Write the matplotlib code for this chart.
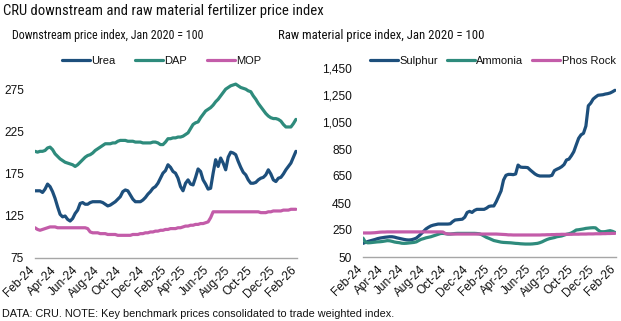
import numpy as np
import pandas as pd
import matplotlib
matplotlib.use("Agg")
import matplotlib.pyplot as plt
from matplotlib import font_manager
from matplotlib.font_manager import FontProperties

plt.rcParams['font.family'] = ['Liberation Sans', 'DejaVu Sans']


def narrow_face():
    """Pick a condensed sans-serif face for headings, if any is installed."""
    fonts = font_manager.fontManager.ttflist
    wanted = ["liberation sans narrow", "arial narrow", "roboto condensed",
              "open sans condensed", "noto sans condensed",
              "dejavu sans condensed"]
    for w in wanted:
        for f in fonts:
            if f.name.lower() == w and f.style == "normal" and f.weight in (400, "normal", "regular"):
                return FontProperties(fname=f.fname)
    for f in fonts:
        st = f.stretch
        cond = (isinstance(st, str) and "condensed" in st) or (isinstance(st, (int, float)) and st < 500)
        if cond and f.style == "normal" and f.weight in (400, "normal", "regular") \
                and any(k in f.name for k in ("Sans", "Roboto", "Lato", "Inter")):
            return FontProperties(fname=f.fname)
    return FontProperties(family=["Liberation Sans", "DejaVu Sans"])


HEAD_FP = narrow_face()

# Weekly observations, Feb 2024 - Jan 2026 (index, Jan 2020 = 100)
weeks = pd.date_range("2024-02-01", periods=105, freq="7D")

urea = [155,155,155,153,157,163,160,154,146,136,
        127,124,125,121,119,122,128,132,140,141,
        139,139,141,142,142,142,142,141,139,137,
        138,140,142,145,148,154,156,155,150,145,
        142,142,142,144,147,151,154,158,160,164,
        170,176,179,186,183,178,176,170,160,155,
        164,168,163,162,171,181,178,168,163,157,
        158,176,192,184,194,188,180,195,201,200,
        198,190,183,177,174,168,164,164,165,168,
        170,171,174,180,175,168,166,170,171,175,
        180,184,188,195,202]

dap = [202,201,202,202,203,206,207,204,199,196,
       193,191,189,188,187,186,184,186,189,192,
       195,197,198,200,203,205,207,209,211,211,
       211,212,212,214,215,215,215,214,214,214,
       213,213,213,212,212,212,212,213,213,212,
       210,210,213,217,217,218,218,219,219,220,
       222,224,229,234,236,237,242,246,250,252,
       254,257,261,264,268,272,276,278,280,281,
       282,280,278,277,276,274,273,268,264,259,
       255,251,247,244,242,241,241,240,238,234,
       231,231,231,235,240]

mop = [111,109,108,109,110,111,112,112,112,111,
       111,111,111,111,111,111,111,111,111,111,
       111,110,106,105,105,105,104,104,104,103,
       103,103,103,102,102,102,102,102,102,103,
       103,103,104,104,105,105,106,106,107,107,
       108,108,109,109,110,110,110,111,111,112,
       113,113,114,114,115,115,116,116,117,118,
       123,130,130,130,130,130,130,130,130,130,
       130,130,130,130,130,130,130,130,130,130,
       129,129,129,130,130,131,131,131,131,132,
       132,132,133,133,133]

sulphur = [151,158,165,170,175,180,186,190,193,196,
           198,200,200,197,192,188,184,180,177,176,
           178,183,190,205,222,240,258,270,280,286,
           290,294,294,294,294,294,296,312,324,326,
           328,330,345,380,388,380,395,403,403,403,
           403,412,425,428,428,460,500,540,620,655,
           662,662,660,665,731,716,714,714,712,695,
           680,665,655,650,650,650,650,650,655,690,
           700,708,719,735,769,775,800,830,880,929,
           955,966,1020,1170,1190,1220,1235,1248,1250,1252,
           1257,1260,1265,1274,1285]

ammonia = [190,160,155,156,158,160,162,163,165,168,
           171,170,166,161,158,156,152,151,152,154,
           156,158,162,172,181,186,192,196,200,206,
           212,218,224,225,223,220,220,222,224,225,
           225,225,225,225,225,225,225,224,222,215,
           205,195,188,180,172,168,164,160,158,157,
           156,155,153,151,150,148,147,146,146,146,
           147,149,151,156,163,172,180,186,190,194,
           200,203,206,212,218,222,228,238,250,252,
           255,258,262,264,266,267,266,250,238,237,
           238,242,245,240,232]

phos_rock = ([228,228,228,228,229,230,232,234] +
             [235,235,236,236,236,236,236,236,236,236,236,236,236,
              236,236,236,236,236,236,236,236,236,236,236,236,235] +
             [224] +
             [221,220,220,220,220,220,220,220,220,220,220,220,220,
              220,220,220,220,220,220,220,220,219,218,217,216] +
             [214,214,213,213,213,213,213,213,213,213,213,213,213,
              213,214,214,215,215,216,216,217,217,218,218,218,218] +
             [218,219,219,219,220,220,220,221,221,221,222,222,222,
              223,223,224,224,225,225])

tick_dates = pd.date_range("2024-02-01", "2026-02-01", freq="2MS")
tick_labels = [d.strftime("%b-%y") for d in tick_dates]

NAVY = "#1d4f7c"
TEAL = "#2e8b7c"
PINK = "#c35ca9"
LW = 2.3
INK = "#111111"

fig = plt.figure(figsize=(6.21, 3.21), dpi=100)
ax1 = fig.add_axes([35/621, 1-258/321, 262/621, 189/321])
ax2 = fig.add_axes([363/621, 1-257/321, 253/621, 189/321])

panels = [
    (ax1, [("Urea", urea, NAVY), ("DAP", dap, TEAL), ("MOP", mop, PINK)],
     (75, 300), np.arange(75, 300, 50)),
    (ax2, [("Sulphur", sulphur, NAVY), ("Ammonia", ammonia, TEAL),
           ("Phos Rock", phos_rock, PINK)],
     (50, 1450), np.arange(50, 1451, 200)),
]

for ax, series, ylim, yticks in panels:
    for name, vals, col in series:
        ax.plot(weeks, vals, color=col, lw=LW, solid_capstyle="round",
                solid_joinstyle="round", label=name)
    ax.set_ylim(*ylim)
    ax.set_yticks(yticks)
    ax.set_yticklabels([f"{v:,}" for v in yticks])
    ax.set_xlim(tick_dates[0], tick_dates[-1])
    ax.set_xticks(tick_dates)
    ax.set_xticklabels(tick_labels, rotation=45, ha="right", va="baseline",
                       rotation_mode="anchor")
    for s in ("top", "right", "left"):
        ax.spines[s].set_visible(False)
    ax.spines["bottom"].set_color("#a6a6a6")
    ax.spines["bottom"].set_linewidth(1.0)
    ax.tick_params(axis="both", length=0, labelsize=8.6, colors=INK)
    ax.tick_params(axis="y", pad=8)
    ax.tick_params(axis="x", pad=9)
    ax.patch.set_alpha(0)

# Headings in the condensed face, sized to their target widths (pixels)
renderer = fig.canvas.get_renderer()


def heading(x, y, s, width_px, size0):
    t = fig.text(x/621, 1-y/321, s, fontproperties=HEAD_FP.copy(),
                 color=INK, va="center", ha="left")
    t.set_fontsize(size0)
    w = t.get_window_extent(renderer).width
    t.set_fontsize(size0 * width_px / w)
    return t


heading(3, 11, "CRU downstream and raw material fertilizer price index", 319, 11.5)
heading(12, 35, "Downstream price index, Jan 2020 = 100", 193, 9.5)
heading(278, 35, "Raw material price index, Jan 2020 = 100", 207, 9.5)

fig.text(2/621, 1-314/321, "DATA: CRU. NOTE: Key benchmark prices consolidated to trade weighted index.",
         fontsize=7.8, color=INK, va="center", ha="left")

for ax, x0, colsp in ((ax1, 62, 1.75), (ax2, 370, 0.8)):
    leg = ax.legend(loc="center left", bbox_to_anchor=(x0/621, 1-61/321),
                    bbox_transform=fig.transFigure, ncol=3, frameon=False,
                    fontsize=8, handlelength=2.5, handletextpad=0.15,
                    columnspacing=colsp, borderpad=0, borderaxespad=0)
    for t in leg.get_texts():
        t.set_color(INK)

fig.savefig("out.png", dpi=100)
